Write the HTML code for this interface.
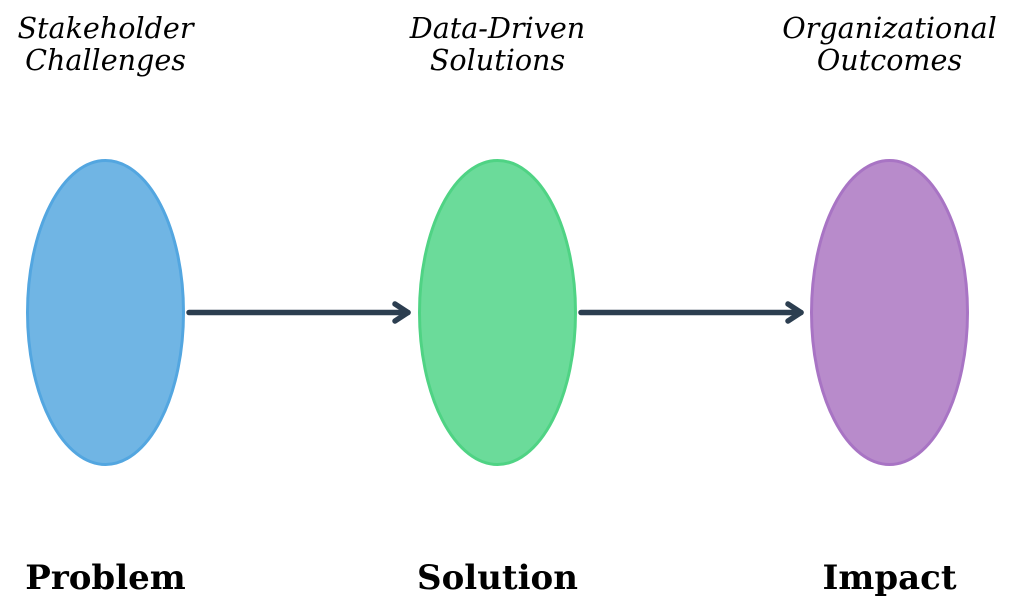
<!DOCTYPE html>
<html>
<head>
<meta charset="utf-8">
<style>
  html, body { margin: 0; padding: 0; background: #ffffff; }
  svg { display: block; }
  .top { font-family: "DejaVu Serif", "Liberation Serif", serif; font-style: italic; font-size: 28.6px; fill: #000; }
  .bot { font-family: "DejaVu Serif", "Liberation Serif", serif; font-weight: bold; font-size: 34px; fill: #000; }
</style>
</head>
<body>
<svg width="1024" height="605" viewBox="0 0 1024 605" xmlns="http://www.w3.org/2000/svg">
  <rect width="1024" height="605" fill="#ffffff"/>
  <!-- ellipses -->
  <ellipse cx="105.5" cy="312.5" rx="78" ry="152" fill="#70b5e4" stroke="#53a6e0" stroke-width="3"/>
  <ellipse cx="497.5" cy="312.5" rx="78" ry="152" fill="#6bdb9a" stroke="#4fd384" stroke-width="3"/>
  <ellipse cx="889.5" cy="312.5" rx="78" ry="152" fill="#b88bcb" stroke="#a874c4" stroke-width="3"/>
  <!-- arrows -->
  <g stroke="#2c3e50" stroke-width="5.5" stroke-linecap="round" stroke-linejoin="round" fill="none">
    <line x1="189" y1="312.5" x2="408" y2="312.5"/>
    <polyline points="395,304 408,312.5 395,321"/>
    <line x1="581" y1="312.5" x2="801" y2="312.5"/>
    <polyline points="788,304 801,312.5 788,321"/>
  </g>
  <!-- top labels -->
  <text class="top" x="105.5" y="38" text-anchor="middle">Stakeholder</text>
  <text class="top" x="105.5" y="70" text-anchor="middle">Challenges</text>
  <text class="top" x="497.5" y="38" text-anchor="middle">Data-Driven</text>
  <text class="top" x="497.5" y="70" text-anchor="middle">Solutions</text>
  <text class="top" x="889.5" y="38" text-anchor="middle">Organizational</text>
  <text class="top" x="889.5" y="70" text-anchor="middle">Outcomes</text>
  <!-- bottom labels -->
  <text class="bot" x="105.5" y="589" text-anchor="middle">Problem</text>
  <text class="bot" x="497.5" y="589" text-anchor="middle">Solution</text>
  <text class="bot" x="889.5" y="589" text-anchor="middle">Impact</text>
</svg>
</body>
</html>
